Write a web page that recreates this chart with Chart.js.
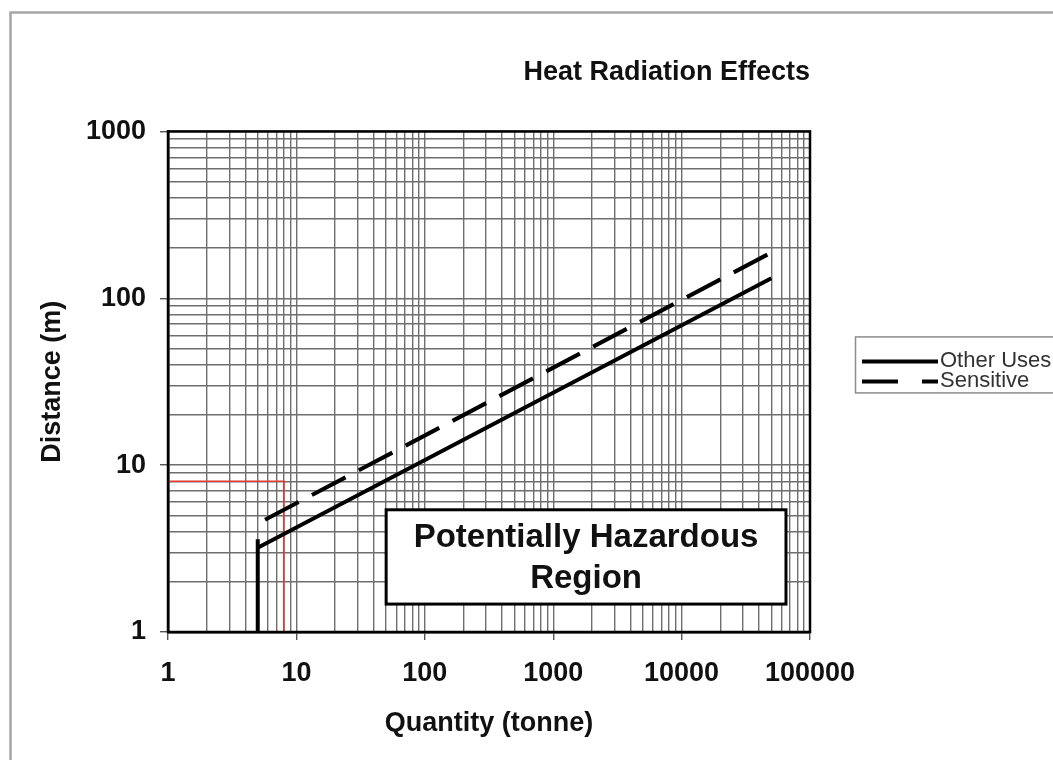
<!DOCTYPE html>
<html>
<head>
<meta charset="utf-8">
<title>Heat Radiation Effects</title>
<script src="https://cdn.jsdelivr.net/npm/chart.js@4.4.1/dist/chart.umd.min.js"></script>
<style>
    html, body { margin: 0; padding: 0; background: #fff; }
    #wrap { width: 1053px; height: 760px; }
</style>
</head>
<body>
<div id="wrap"><canvas id="chart1" width="1053" height="760"></canvas></div>
<script>
(function () {
    'use strict';

    // axis decades (labelled ticks)
    var xDecades = [1, 10, 100, 1000, 10000, 100000];
    var yDecades = [1, 10, 100, 1000];

    // separation distance lines
    var otherUsesQty = [5, 5, 5, 50000];
    var otherUsesDist = [1, 3.6, 3.2, 132];
    var sensitiveQty = [5.7, 50000];
    var sensitiveDist = [4.7, 188];

    // red reference lines (8 t / 8 m)
    var limitQty = [1, 8, 8];
    var limitDist = [8, 8, 1];

    var seriesLabels = ['Other Uses', 'Sensitive'];
    var regionLines = ['Potentially Hazardous', 'Region'];

    var FONT = "'Liberation Sans', Arial, Helvetica, sans-serif";

    function isDecade(v) {
        var l = Math.log10(v);
        return Math.abs(l - Math.round(l)) < 1e-9;
    }

    // 1..9 per decade so every minor grid line is drawn
    function logTicks(decades) {
        var out = [];
        for (var i = 0; i < decades.length - 1; i++) {
            for (var m = 1; m < 10; m++) {
                out.push({value: decades[i] * m});
            }
        }
        out.push({value: decades[decades.length - 1]});
        return out;
    }

    function toPoints(xs, ys) {
        var pts = [];
        for (var i = 0; i < xs.length; i++) {
            pts.push({x: xs[i], y: ys[i]});
        }
        return pts;
    }

    var frame = {
        id: 'frame',
        beforeDraw: function (chart) {
            var ctx = chart.ctx;
            ctx.save();
            ctx.fillStyle = '#fff';
            ctx.fillRect(0, 0, chart.width, chart.height);
            ctx.strokeStyle = '#a6a6a6';
            ctx.lineWidth = 2.5;
            ctx.beginPath();
            ctx.moveTo(10.5, chart.height);
            ctx.lineTo(10.5, 12.5);
            ctx.lineTo(chart.width, 12.5);
            ctx.stroke();
            ctx.restore();
        },
        afterDatasetsDraw: function (chart) {
            var ctx = chart.ctx, a = chart.chartArea;
            var xs = chart.scales.x, ys = chart.scales.y;
            ctx.save();
            ctx.strokeStyle = '#000';
            ctx.lineWidth = 2.5;
            ctx.strokeRect(a.left, a.top, a.right - a.left, a.bottom - a.top);

            // "Potentially Hazardous Region" box
            var bl = xs.getPixelForValue(50), br = xs.getPixelForValue(65000);
            var bt = ys.getPixelForValue(5.4), bb = ys.getPixelForValue(1.47);
            ctx.fillStyle = '#fff';
            ctx.fillRect(bl, bt, br - bl, bb - bt);
            ctx.lineWidth = 3;
            ctx.strokeRect(bl, bt, br - bl, bb - bt);
            ctx.fillStyle = '#111';
            ctx.font = 'bold 33px ' + FONT;
            ctx.textAlign = 'center';
            ctx.textBaseline = 'middle';
            var cx = (bl + br) / 2, h = bb - bt;
            ctx.fillText(regionLines[0], cx, bt + h * 0.3);
            ctx.fillText(regionLines[1], cx, bt + h * 0.73);
            ctx.restore();
        },
        afterDraw: function (chart) {
            var ctx = chart.ctx, a = chart.chartArea;
            var left = a.right + 45, top = a.top + 205;
            var dashes = [[], [36, 24]];
            ctx.save();
            ctx.fillStyle = '#fff';
            ctx.fillRect(left, top, 260, 56);
            ctx.strokeStyle = '#8c8c8c';
            ctx.lineWidth = 1.5;
            ctx.strokeRect(left + 0.5, top + 0.5, 260, 56);
            ctx.font = '22px ' + FONT;
            ctx.textAlign = 'left';
            ctx.textBaseline = 'middle';
            for (var i = 0; i < seriesLabels.length; i++) {
                var y = top + 25 + i * 20;
                ctx.strokeStyle = '#000';
                ctx.lineWidth = 4;
                ctx.setLineDash(dashes[i]);
                ctx.beginPath();
                ctx.moveTo(left + 7, y);
                ctx.lineTo(left + 83, y);
                ctx.stroke();
                ctx.setLineDash([]);
                ctx.fillStyle = '#333';
                ctx.fillText(seriesLabels[i], left + 85, y);
            }
            ctx.restore();
        }
    };

    var gridColor = '#6e6e6e';

    var ctx = document.getElementById('chart1');
    new Chart(ctx, {
        type: 'line',
        data: {
            datasets: [
                {
                    label: seriesLabels[0],
                    data: toPoints(otherUsesQty, otherUsesDist),
                    borderColor: '#000',
                    borderWidth: 4,
                    pointRadius: 0,
                    tension: 0,
                    fill: false
                },
                {
                    label: seriesLabels[1],
                    data: toPoints(sensitiveQty, sensitiveDist),
                    borderColor: '#000',
                    borderWidth: 4,
                    borderDash: [38, 15],
                    pointRadius: 0,
                    tension: 0,
                    fill: false
                },
                {
                    label: 'limit',
                    data: toPoints(limitQty, limitDist),
                    borderColor: '#e23b30',
                    borderWidth: 1.6,
                    pointRadius: 0,
                    tension: 0,
                    fill: false
                }
            ]
        },
        options: {
            responsive: false,
            animation: false,
            layout: {padding: {left: 0, right: 243, top: 0, bottom: 0}},
            plugins: {
                legend: {display: false},
                tooltip: {enabled: false},
                title: {
                    display: true,
                    text: 'Heat Radiation Effects',
                    align: 'end',
                    color: '#111',
                    font: {family: FONT, size: 27, weight: 'bold'},
                    padding: {top: 56, bottom: 43}
                }
            },
            scales: {
                x: {
                    type: 'logarithmic',
                    min: xDecades[0],
                    max: xDecades[xDecades.length - 1],
                    afterBuildTicks: function (scale) {
                        scale.ticks = logTicks(xDecades);
                    },
                    afterFit: function (scale) {
                        scale.height = 128;
                    },
                    grid: {
                        color: gridColor,
                        lineWidth: 1.4,
                        tickLength: 8,
                        tickColor: function (c) {
                            return c.tick && isDecade(c.tick.value) ? '#555' : 'rgba(0,0,0,0)';
                        }
                    },
                    border: {display: true, color: '#000', width: 2.5},
                    ticks: {
                        autoSkip: false,
                        maxRotation: 0,
                        padding: 17,
                        color: '#111',
                        font: {family: FONT, size: 27, weight: 'bold'},
                        callback: function (v) {
                            return isDecade(v) ? String(v) : '';
                        }
                    },
                    title: {
                        display: true,
                        text: 'Quantity (tonne)',
                        color: '#111',
                        font: {family: FONT, size: 27, weight: 'bold'},
                        padding: {top: 0, bottom: 20}
                    }
                },
                y: {
                    type: 'logarithmic',
                    min: yDecades[0],
                    max: yDecades[yDecades.length - 1],
                    afterBuildTicks: function (scale) {
                        scale.ticks = logTicks(yDecades);
                    },
                    afterFit: function (scale) {
                        scale.width = 168;
                    },
                    grid: {
                        color: gridColor,
                        lineWidth: 1.4,
                        tickLength: 8,
                        tickColor: function (c) {
                            return c.tick && isDecade(c.tick.value) ? '#555' : 'rgba(0,0,0,0)';
                        }
                    },
                    border: {display: true, color: '#000', width: 2.5},
                    ticks: {
                        autoSkip: false,
                        padding: 14,
                        color: '#111',
                        font: {family: FONT, size: 27, weight: 'bold'},
                        callback: function (v) {
                            return isDecade(v) ? String(v) : '';
                        }
                    },
                    title: {
                        display: true,
                        text: 'Distance (m)',
                        color: '#111',
                        font: {family: FONT, size: 27, weight: 'bold'},
                        padding: {top: 36, bottom: 0}
                    }
                }
            }
        },
        plugins: [frame]
    });
})();
</script>
</body>
</html>
